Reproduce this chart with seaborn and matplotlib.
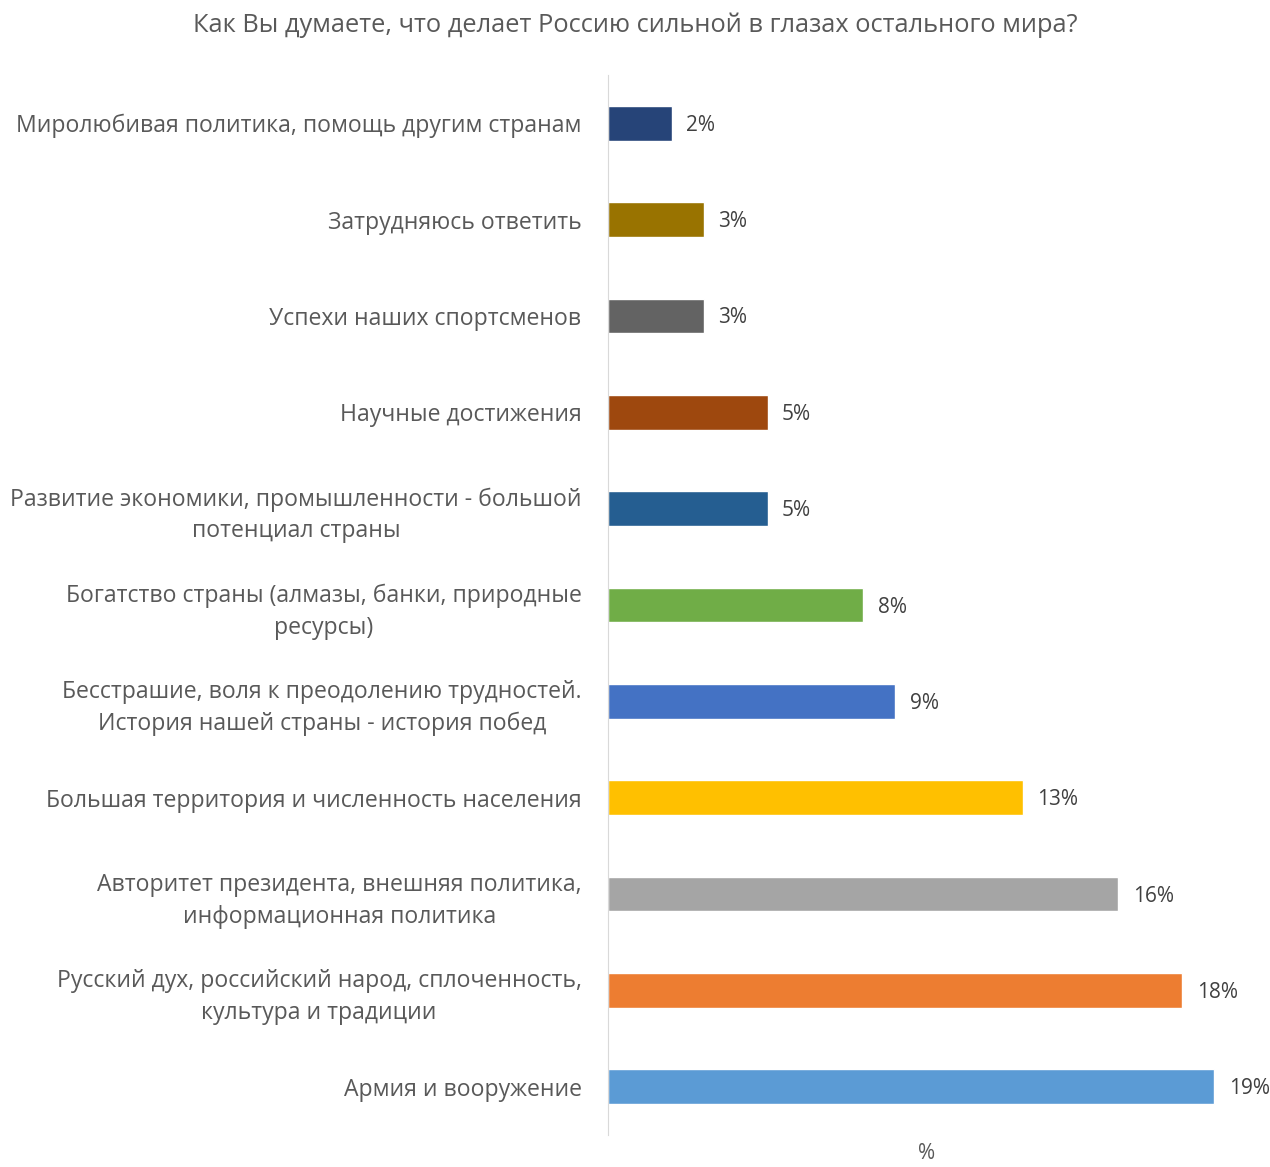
import seaborn as sns
import matplotlib.pyplot as plt
import pandas as pd

categories = [
    'Миролюбивая политика, помощь другим странам',
    'Затрудняюсь ответить',
    'Успехи наших спортсменов',
    'Научные достижения',
    'Развитие экономики, промышленности - большой\nпотенциал страны',
    'Богатство страны (алмазы, банки, природные\nресурсы)',
    'Бесстрашие, воля к преодолению трудностей.\nИстория нашей страны - история побед',
    'Большая территория и численность населения',
    'Авторитет президента, внешняя политика,\nинформационная политика',
    'Русский дух, российский народ, сплоченность,\nкультура и традиции',
    'Армия и вооружение',
]
values = [2, 3, 3, 5, 5, 8, 9, 13, 16, 18, 19]
bar_colors = ['#264478', '#997300', '#636363', '#9E480E', '#255E91', '#70AD47',
              '#4472C4', '#FFC000', '#A5A5A5', '#ED7D31', '#5B9BD5']

df = pd.DataFrame({'cat': categories, 'val': values})

sns.set_style('white')
plt.rcParams['font.family'] = ['Open Sans', 'DejaVu Sans']

fig = plt.figure(figsize=(12.7, 11.67), dpi=100)
ax = fig.add_axes([608 / 1270, 1 - 1135 / 1167, (1246 - 608) / 1270, (1135 - 75) / 1167])

sns.barplot(data=df, x='val', y='cat', hue='cat', palette=bar_colors,
            legend=False, width=0.36, ax=ax, saturation=1)

for i, v in enumerate(values):
    ax.annotate(f'{v}%', (v, i), xytext=(10.5, -1.5), textcoords='offset points',
                va='center', ha='left', fontsize=15, color='#404040')

ax.set_xlim(0, 20)
ax.set_ylim(10.5, -0.5)
ax.set_xticks([])
ax.set_ylabel('')
ax.set_xlabel('%', fontsize=15, color='#595959', labelpad=6)
ax.tick_params(axis='y', length=0, pad=19, labelsize=16.6, labelcolor='#595959')
for lbl in ax.get_yticklabels():
    lbl.set_horizontalalignment('right')
    lbl.set_multialignment('center')
    lbl.set_linespacing(1.42)
for s in ['top', 'right', 'bottom']:
    ax.spines[s].set_visible(False)
ax.spines['left'].set_color('#D9D9D9')

fig.text(0.5, 1 - 25 / 1167, 'Как Вы думаете, что делает Россию сильной в глазах остального мира?',
         ha='center', va='center', fontsize=18.3, color='#595959')

fig.savefig('out.png', dpi=100)
